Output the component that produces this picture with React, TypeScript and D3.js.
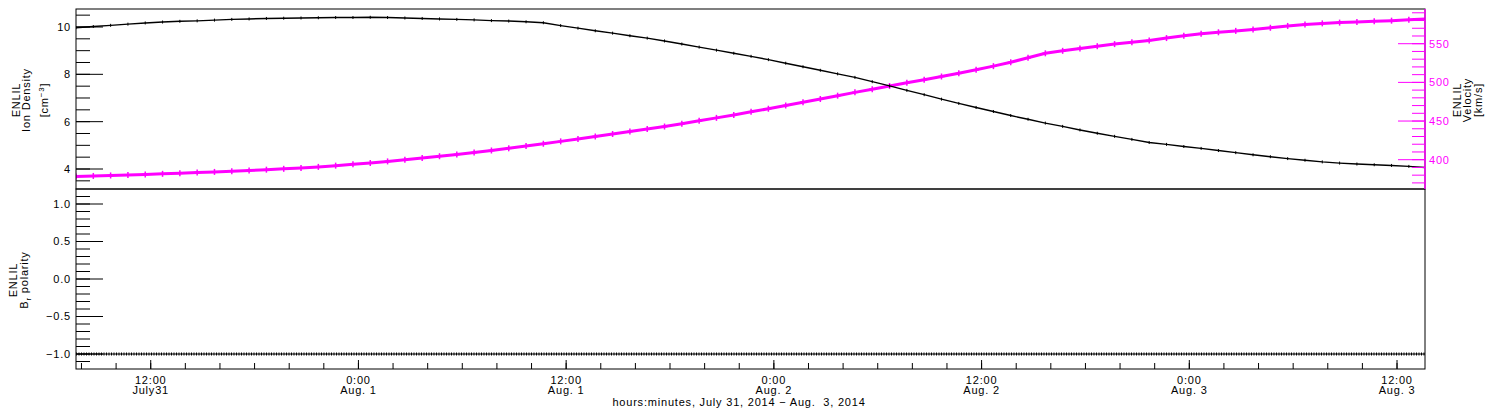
import React from "react";
import * as d3 from "d3";

// ENLIL model output, one sample per hour starting 2014-07-31 07:41
const density = [
  9.97, 10.02, 10.07, 10.12, 10.17, 10.21, 10.24, 10.26, 10.29, 10.32,
  10.34, 10.36, 10.37, 10.38, 10.39, 10.4, 10.4, 10.41, 10.4, 10.38,
  10.36, 10.34, 10.32, 10.3, 10.27, 10.25, 10.22, 10.18, 10.06, 9.95,
  9.84, 9.74, 9.63, 9.53, 9.41, 9.28, 9.15, 9.02, 8.89, 8.76,
  8.62, 8.47, 8.32, 8.17, 8.02, 7.87, 7.69, 7.51, 7.32, 7.14,
  6.95, 6.77, 6.6, 6.43, 6.26, 6.1, 5.94, 5.8, 5.65, 5.51,
  5.38, 5.25, 5.12, 5.04, 4.95, 4.87, 4.78, 4.69, 4.6, 4.52,
  4.44, 4.37, 4.3, 4.25, 4.21, 4.18, 4.15, 4.11, 4.06,
];

const velocity = [
  378.4, 379.0, 379.6, 380.3, 381.0, 381.7, 382.4, 383.3, 384.2, 385.1,
  386.1, 387.1, 388.2, 389.4, 390.7, 392.3, 394.0, 395.7, 397.8, 400.0,
  402.2, 404.5, 406.8, 409.2, 411.9, 414.7, 417.6, 420.6, 423.7, 426.8,
  430.0, 433.2, 436.5, 439.7, 442.9, 446.5, 450.3, 454.1, 457.9, 461.9,
  465.9, 470.1, 474.3, 478.5, 482.8, 487.1, 491.2, 495.3, 499.4, 503.5,
  507.6, 511.7, 516.3, 521.0, 526.0, 531.8, 537.6, 540.8, 543.8, 546.8,
  549.5, 552.0, 554.3, 557.3, 560.3, 563.0, 564.8, 566.6, 568.4, 570.6,
  573.0, 575.0, 576.3, 577.3, 578.2, 579.0, 579.8, 580.9, 582.1,
];

const polarity = [
  -1, -1, -1, -1, -1, -1, -1, -1, -1, -1, -1, -1, -1, -1, -1, -1, -1, -1, -1, -1,
  -1, -1, -1, -1, -1, -1, -1, -1, -1, -1, -1, -1, -1, -1, -1, -1, -1, -1, -1, -1,
  -1, -1, -1, -1, -1, -1, -1, -1, -1, -1, -1, -1, -1, -1, -1, -1, -1, -1, -1, -1,
  -1, -1, -1, -1, -1, -1, -1, -1, -1, -1, -1, -1, -1, -1, -1, -1, -1, -1, -1,
];

const xTickTimes = [
  "2014-07-31 12:00",
  "2014-08-01 00:00",
  "2014-08-01 12:00",
  "2014-08-02 00:00",
  "2014-08-02 12:00",
  "2014-08-03 00:00",
  "2014-08-03 12:00",
];
const xTickTop = ["12:00", "0:00", "12:00", "0:00", "12:00", "0:00", "12:00"];
const xTickBottom = ["July31", "Aug. 1", "Aug. 1", "Aug. 2", "Aug. 2", "Aug. 3", "Aug. 3"];

const densityTicks = [4, 6, 8, 10];
const velocityTicks = [400, 450, 500, 550];
const polarityTicks = [-1, -0.5, 0, 0.5, 1];

const xTitle = "hours:minutes, July 31, 2014 \u2212 Aug.  3, 2014";

const W = 1500;
const H = 410;
const L = 76;
const R = 1425;
const T = 9;
const M = 189;
const B = 369;
const FONT = "'Liberation Sans', Arial, sans-serif";
const MAGENTA = "#ff00ff";

export default function App() {
  const start = new Date(2014, 6, 31, 7, 41);
  const end = new Date(2014, 7, 3, 13, 37);
  const parse = d3.timeParse("%Y-%m-%d %H:%M");
  const times = density.map((_, i) => d3.timeHour.offset(start, i));

  const x = d3.scaleTime().domain([start, end]).range([L, R]);
  const yDen = d3.scaleLinear().domain([3.155, 10.76]).range([M, T]);
  const yVel = d3.scaleLinear().domain([362.1, 594.9]).range([M, T]);
  const yPol = d3.scaleLinear().domain([-1.2, 1.2]).range([B, M]);

  const denLine = d3
    .line<number>()
    .x((d, i) => x(times[i]))
    .y((d) => yDen(d));
  const velLine = d3
    .line<number>()
    .x((d, i) => x(times[i]))
    .y((d) => yVel(d));
  const polLine = d3
    .line<number>()
    .x((d, i) => x(times[i]))
    .y((d) => yPol(d));

  const minorX = d3.timeHour.every(2)!.range(start, end);
  const majorX = xTickTimes.map((s) => parse(s)!);

  const denMinor = d3.range(3.5, 10.51, 0.5);
  const velMinor = d3.range(370, 591, 10);
  const polMinor = d3.range(-11, 12).map((v) => v / 10);
  const fmt1 = d3.format(".1f");

  const txt = { fontFamily: FONT, fontSize: 11, letterSpacing: 0.8 };

  return (
    <svg
      width={W}
      height={H}
      style={{ position: "absolute", left: 0, top: 0, background: "#fff" }}
    >
      <defs>
        <clipPath id="top">
          <rect x={L} y={T} width={R - L} height={M - T} />
        </clipPath>
        <clipPath id="bot">
          <rect x={L} y={M} width={R - L} height={B - M} />
        </clipPath>
      </defs>
      <rect width={W} height={H} fill="#fff" />

      {/* data: top panel */}
      <g clipPath="url(#top)">
        <path d={velLine(velocity)!} fill="none" stroke={MAGENTA} strokeWidth={3} />
        {velocity.map((v, i) => (
          <g key={"v" + i} stroke={MAGENTA} strokeWidth={1.5}>
            <line x1={x(times[i]) - 3} x2={x(times[i]) + 3} y1={yVel(v)} y2={yVel(v)} />
            <line x1={x(times[i])} x2={x(times[i])} y1={yVel(v) - 3} y2={yVel(v) + 3} />
          </g>
        ))}
        <path d={denLine(density)!} fill="none" stroke="#000" strokeWidth={1.4} />
        {density.map((v, i) => (
          <line
            key={"d" + i}
            x1={x(times[i])}
            x2={x(times[i])}
            y1={yDen(v) - 1.5}
            y2={yDen(v) + 1.5}
            stroke="#000"
            strokeWidth={1}
          />
        ))}
      </g>

      {/* data: bottom panel */}
      <g clipPath="url(#bot)">
        <path d={polLine(polarity)!} fill="none" stroke="#000" strokeWidth={1} />
        <path
          d={polLine(polarity)!}
          fill="none"
          stroke="#000"
          strokeWidth={3}
          strokeDasharray="1 1.5"
        />
      </g>

      {/* frames */}
      <g fill="none" stroke="#000" strokeWidth={1}>
        <rect x={L} y={T} width={R - L} height={M - T} />
        <rect x={L} y={M} width={R - L} height={B - M} />
      </g>
      <line x1={R} x2={R} y1={T} y2={M} stroke={MAGENTA} strokeWidth={1.5} />

      {/* density axis */}
      <g stroke="#000" strokeWidth={1}>
        {denMinor.map((v) => (
          <line key={v} x1={L} x2={L + 14} y1={yDen(v)} y2={yDen(v)} />
        ))}
        {densityTicks.map((v) => (
          <line key={v} x1={L} x2={L + 27} y1={yDen(v)} y2={yDen(v)} />
        ))}
      </g>
      {densityTicks.map((v) => (
        <text key={v} x={L - 5} y={yDen(v)} dy="0.35em" textAnchor="end" {...txt}>
          {v}
        </text>
      ))}

      {/* velocity axis */}
      <g stroke={MAGENTA} strokeWidth={1}>
        {velMinor.map((v) => (
          <line key={v} x1={R - 13} x2={R} y1={yVel(v)} y2={yVel(v)} />
        ))}
        {velocityTicks.map((v) => (
          <line key={v} x1={R - 27} x2={R} y1={yVel(v)} y2={yVel(v)} />
        ))}
      </g>
      {velocityTicks.map((v) => (
        <text key={v} x={R + 4} y={yVel(v)} dy="0.35em" fill={MAGENTA} {...txt}>
          {v}
        </text>
      ))}

      {/* polarity axis */}
      <g stroke="#000" strokeWidth={1}>
        {polMinor.map((v) => (
          <line key={v} x1={L} x2={L + 14} y1={yPol(v)} y2={yPol(v)} />
        ))}
        {polarityTicks.map((v) => (
          <line key={v} x1={L} x2={L + 27} y1={yPol(v)} y2={yPol(v)} />
        ))}
      </g>
      {polarityTicks.map((v) => (
        <text key={v} x={L - 5} y={yPol(v)} dy="0.35em" textAnchor="end" {...txt}>
          {fmt1(v)}
        </text>
      ))}

      {/* time axis */}
      <g stroke="#000" strokeWidth={1}>
        {minorX.map((t, i) => (
          <line key={i} x1={x(t)} x2={x(t)} y1={B - 6} y2={B} />
        ))}
        {majorX.map((t, i) => (
          <line key={i} x1={x(t)} x2={x(t)} y1={B - 9} y2={B} />
        ))}
      </g>
      {majorX.map((t, i) => (
        <g key={i} {...txt} textAnchor="middle">
          <text x={x(t)} y={384}>
            {xTickTop[i]}
          </text>
          <text x={x(t)} y={394}>
            {xTickBottom[i]}
          </text>
        </g>
      ))}
      <text
        x={739}
        y={406}
        textAnchor="middle"
        {...txt}
        style={{ whiteSpace: "pre" }}
      >
        {xTitle}
      </text>

      {/* axis titles */}
      <g {...txt} textAnchor="middle">
        <text transform="translate(20,100) rotate(-90)">ENLIL</text>
        <text transform="translate(30,100) rotate(-90)">Ion Density</text>
        <text transform="translate(48,100) rotate(-90)">
          [cm
          <tspan dy={-4} fontSize={8}>
            {"\u22123"}
          </tspan>
          <tspan dy={4}>]</tspan>
        </text>
        <text transform="translate(17,280) rotate(-90)">ENLIL</text>
        <text transform="translate(28,280) rotate(-90)">
          B
          <tspan dy={3} fontSize={8}>
            r
          </tspan>
          <tspan dy={-3}> polarity</tspan>
        </text>
        <text transform="translate(1461,100) rotate(-90)">ENLIL</text>
        <text transform="translate(1471,100) rotate(-90)">Velocity</text>
        <text transform="translate(1482,100) rotate(-90)">[km/s]</text>
      </g>
    </svg>
  );
}
